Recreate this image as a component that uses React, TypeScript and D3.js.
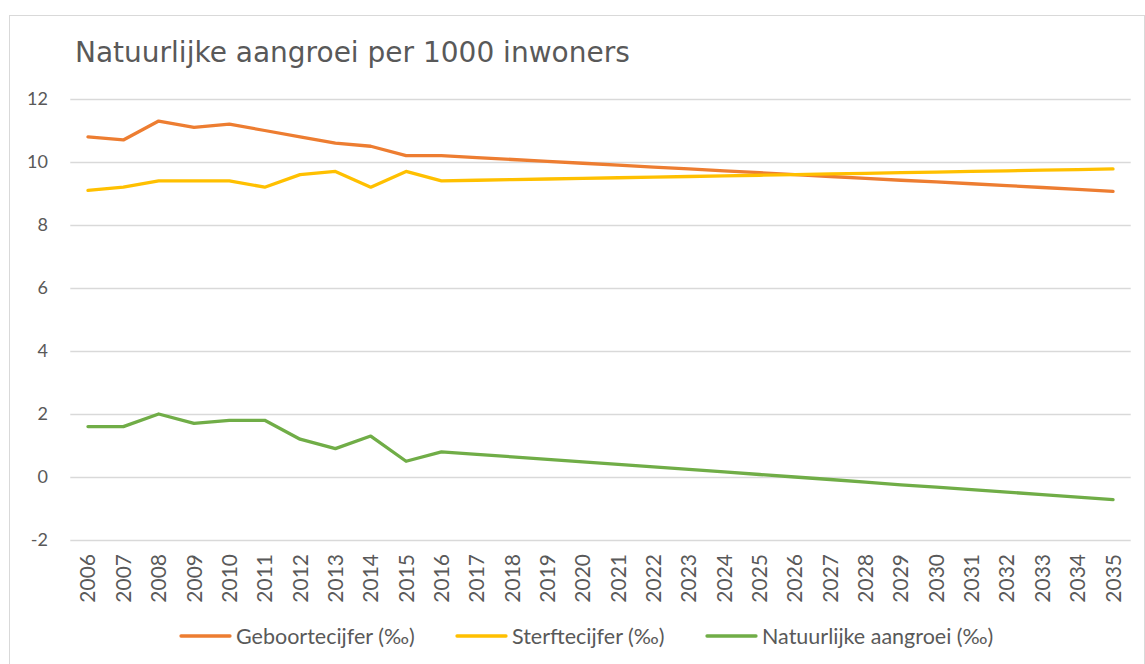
import React, { useEffect, useRef } from "react";
import * as d3 from "d3";

const years = ["2006","2007","2008","2009","2010","2011","2012","2013","2014","2015","2016","2017","2018","2019","2020","2021","2022","2023","2024","2025","2026","2027","2028","2029","2030","2031","2032","2033","2034","2035"];
const geboorte = [10.8,10.7,11.3,11.1,11.2,11.0,10.8,10.6,10.5,10.2,10.2,10.14,10.08,10.02,9.96,9.9,9.84,9.78,9.72,9.66,9.6,9.54,9.48,9.42,9.37,9.31,9.25,9.19,9.13,9.07];
const sterfte = [9.1,9.2,9.4,9.4,9.4,9.2,9.6,9.7,9.2,9.7,9.4,9.42,9.44,9.46,9.48,9.5,9.52,9.54,9.56,9.58,9.6,9.62,9.64,9.66,9.68,9.7,9.72,9.74,9.76,9.78];
const aangroei = [1.6,1.6,2.0,1.7,1.8,1.8,1.2,0.9,1.3,0.5,0.8,0.72,0.64,0.56,0.48,0.4,0.32,0.24,0.16,0.08,0.0,-0.08,-0.16,-0.25,-0.32,-0.4,-0.48,-0.56,-0.64,-0.72];
const yTicks = [-2,0,2,4,6,8,10,12];
const seriesNames = ["Geboortecijfer (‰)","Sterftecijfer (‰)","Natuurlijke aangroei (‰)"];
const seriesColors = ["#ED7D31","#FFC000","#70AD47"];
const title = "Natuurlijke aangroei per 1000 inwoners";

export default function App() {
  const ref = useRef<SVGSVGElement>(null);
  useEffect(() => {
    const svg = d3.select(ref.current);
    svg.selectAll("*").remove();
    const left = 70.3, right = 1130.7, top = 99, bottom = 540;
    const font = "Lato, sans-serif";
    const textColor = "#595959";

    svg.append("rect").attr("x", 9.5).attr("y", 15.5).attr("width", 1135).attr("height", 660)
      .attr("fill", "#fff").attr("stroke", "#d9d9d9").attr("stroke-width", 1);

    svg.append("text").attr("x", 75).attr("y", 62).text(title)
      .attr("font-family", "'DejaVu Sans', Verdana, sans-serif").attr("font-size", 28).attr("fill", textColor);

    const x = d3.scalePoint<string>().domain(years).range([left, right]).padding(0.5);
    const y = d3.scaleLinear().domain([-2, 12]).range([bottom, top]);

    const g = svg.append("g");
    yTicks.forEach(t => {
      g.append("line").attr("x1", left).attr("x2", right).attr("y1", Math.round(y(t)) + 0.5).attr("y2", Math.round(y(t)) + 0.5)
        .attr("stroke", "#d9d9d9").attr("stroke-width", 1.3);
      g.append("text").attr("x", 48).attr("y", y(t)).attr("dy", "0.36em").attr("text-anchor", "end")
        .attr("font-family", font).attr("font-size", 18).attr("fill", textColor).text(String(t));
    });

    years.forEach(yr => {
      g.append("text").attr("transform", `translate(${x(yr)! + 7.5},554) rotate(-90)`)
        .attr("text-anchor", "end").attr("font-family", font).attr("font-size", 21).attr("fill", textColor).text(yr);
    });

    const line = d3.line<number>().x((_, i) => x(years[i])!).y(d => y(d));
    [geboorte, sterfte, aangroei].forEach((data, i) => {
      g.append("path").attr("d", line(data)!).attr("fill", "none").attr("stroke", seriesColors[i])
        .attr("stroke-width", 3.3).attr("stroke-linejoin", "round").attr("stroke-linecap", "round");
    });

    const legendX = [181, 457, 707];
    seriesNames.forEach((n, i) => {
      svg.append("line").attr("x1", legendX[i]).attr("x2", legendX[i] + 49).attr("y1", 636).attr("y2", 636)
        .attr("stroke", seriesColors[i]).attr("stroke-width", 3.3).attr("stroke-linecap", "round");
      svg.append("text").attr("x", legendX[i] + 55).attr("y", 636).attr("dy", "0.36em")
        .attr("font-family", font).attr("font-size", 21.5).attr("fill", textColor).text(n);
    });
  }, []);
  return <svg ref={ref} width={1145} height={664} style={{ position: "absolute", left: 0, top: 0, display: "block" }} />;
}
